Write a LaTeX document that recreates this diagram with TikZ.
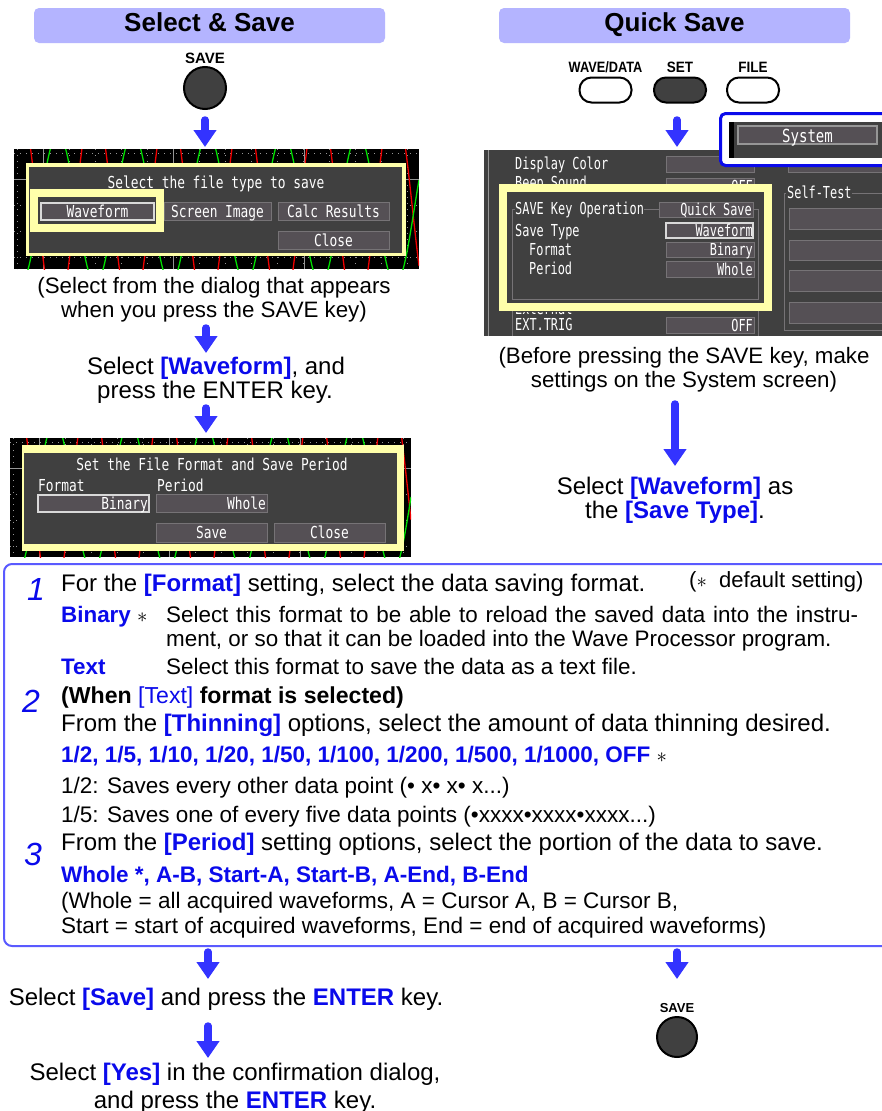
\documentclass[tikz,border=0pt]{standalone}
\usepackage{fontspec}
\setmainfont{Liberation Sans}
\newfontfamily\scrA[FakeStretch=0.78]{DejaVu Sans Mono}
\newfontfamily\scrB[FakeStretch=0.72]{DejaVu Sans Mono}
\usetikzlibrary{arrows.meta}
\definecolor{hdr}{RGB}{180,180,255}
\definecolor{ablue}{RGB}{51,51,255}
\definecolor{tblue}{RGB}{10,10,235}
\definecolor{scrbg}{RGB}{64,64,64}
\definecolor{btn}{RGB}{85,80,85}
\definecolor{btnline}{RGB}{118,115,118}
\definecolor{hl}{RGB}{255,255,170}
\definecolor{boxblue}{RGB}{90,90,255}
\definecolor{sysblue}{RGB}{10,10,235}
\definecolor{keydark}{RGB}{64,64,64}
\definecolor{gridc}{RGB}{150,150,150}
\definecolor{wgreen}{RGB}{0,225,0}
\definecolor{wred}{RGB}{240,0,0}
\newcommand\fsz[1]{\fontsize{#1}{#1}\selectfont}
\newcommand\bb[1]{\textcolor{tblue}{\bfseries #1}}
\newcommand\bn[1]{\textcolor{tblue}{#1}}
\newcommand\valbox[6]{%
  \draw[sbtn] (#1,#2) rectangle (#3,#4);
  \node[stB, anchor=base east] (#6) at ({#3-1},{(#2+#4)/2+6}) {#5};}
\tikzset{
  hdrtext/.style={font=\fsz{26}\bfseries, anchor=base, inner sep=0},
  body/.style={font=\fsz{24}, anchor=base west, inner sep=0},
  desc/.style={font=\fsz{22.4}, anchor=base west, inner sep=0},
  smallt/.style={font=\fsz{22.5}, anchor=base west, inner sep=0},
  capt/.style={font=\fsz{22.3}, anchor=base, inner sep=0},
  capb/.style={font=\fsz{24}, anchor=base, inner sep=0},
  numt/.style={font=\fsz{32}\itshape, text=tblue, anchor=base west, inner sep=0},
  stA/.style={font=\scrA\fsz{16.5}, text=white, inner sep=0},
  stB/.style={font=\scrB\fsz{16.5}, text=white, inner sep=0},
  sbtn/.style={fill=btn, draw=btnline, line width=1pt},
  sbtnsel/.style={fill=btn, draw=white!85!black, line width=2pt},
  bigarrow/.style={ablue, line width=7.5pt, line cap=round, -{Triangle[width=22pt,length=17pt]}},
  keylabel/.style={font=\fsz{15}\bfseries, anchor=base, inner sep=0},
  roundkey/.style={circle, draw=black, line width=2pt, fill=keydark, minimum size=42pt, inner sep=0},
  ovalkey/.style={rectangle, draw=black, line width=2pt, rounded corners=12pt, minimum width=52pt, minimum height=25pt, inner sep=0},
  dotgrid/.style={gridc, line width=0.8pt, dash pattern=on 1pt off 5pt},
  wave/.style={line width=1.3pt, samples=300},
}
\begin{document}
\begin{tikzpicture}[x=1pt,y=-1pt]
\clip (0,0) rectangle (882,1111);
\fill[white] (0,0) rectangle (882,1111);

% ---------- headers ----------
\fill[hdr, rounded corners=5pt] (34,8) rectangle (385,43);
\node[hdrtext] (h1) at (209.5,31) {Select \& Save};
\fill[hdr, rounded corners=5pt] (499,8) rectangle (850,43);
\node[hdrtext] (h2) at (674.5,31) {Quick Save};

% ---------- left keys ----------
\node[keylabel] (savelbl) at (205,63) {SAVE};
\node[roundkey] (savekey) at (205,88) {};
\coordinate (a1s) at (205,120); \coordinate (a1e) at (205,147);
\draw[bigarrow] (a1s) -- (a1e);

% ---------- screen 1 ----------
\begin{scope}
  \clip (14,149) rectangle (419,269);
  \fill[black] (14,149) rectangle (419,269);
  \foreach \gx in {17,43,...,419} \draw[dotgrid] (\gx,149) -- (\gx,269);
  \foreach \gy in {153,205,231,257} \draw[dotgrid] (14,\gy) -- (419,\gy);
  \foreach \gx in {43,173.5,304} \draw[gridc, line width=1pt] (\gx,149) -- (\gx,269);
  \draw[gridc, line width=1pt] (14,179) -- (419,179);
  \draw[wave, wred, domain=14:419] plot (\x,{209-110*sin(4.8*(\x-75))});
  \draw[wave, wgreen, domain=14:419] plot (\x,{209-75*sin(4.8*(\x-39.25))});
\end{scope}
\fill[hl] (26,163) rectangle (406,256);
\fill[scrbg] (29,167) rectangle (402,253);
\node[stA, anchor=base] (d1t) at (216,188) {Select the file type to save};
\fill[hl] (30,189) rectangle (164,232);
\fill[scrbg] (38,197) rectangle (156,224);
\draw[sbtnsel] (41,203) rectangle (154,220);
\node[stA, anchor=base] (wf1) at (97.5,217) {Waveform};
\draw[sbtn] (164,202) rectangle (271,220);
\node[stA, anchor=base] (si1) at (217.5,217) {Screen Image};
\draw[sbtn] (278,202) rectangle (389,220);
\node[stA, anchor=base] (cr1) at (333.5,217) {Calc Results};
\draw[sbtn] (278,231) rectangle (389,249);
\node[stA, anchor=base] (cl1) at (333.5,246) {Close};

\node[capt] (c1a) at (214,293) {(Select from the dialog that appears};
\node[capt] (c1b) at (214,317) {when you press the SAVE key)};
\coordinate (a2s) at (206,328); \coordinate (a2e) at (206,353);
\draw[bigarrow] (a2s) -- (a2e);
\node[capb] (s1a) at (216,374) {Select \bb{[Waveform]}, and};
\node[capb] (s1b) at (215,398) {press the ENTER key.};
\coordinate (a3s) at (206,408); \coordinate (a3e) at (206,433);
\draw[bigarrow] (a3s) -- (a3e);

% ---------- screen 2 ----------
\begin{scope}
  \clip (10,438) rectangle (411,557);
  \fill[black] (10,438) rectangle (411,557);
  \foreach \gx in {13,39,...,411} \draw[dotgrid] (\gx,438) -- (\gx,557);
  \foreach \gy in {442,494,520,546} \draw[dotgrid] (10,\gy) -- (411,\gy);
  \foreach \gx in {39,169.5,300} \draw[gridc, line width=1pt] (\gx,438) -- (\gx,557);
  \draw[gridc, line width=1pt] (10,468) -- (411,468);
  \draw[wave, wred, domain=10:411] plot (\x,{497-110*sin(4.8*(\x-71))});
  \draw[wave, wgreen, domain=10:411] plot (\x,{497-75*sin(4.8*(\x-36))});
\end{scope}
\fill[hl] (22,445) rectangle (404,551);
\fill[scrbg] (24,453) rectangle (397,544);
\node[stA, anchor=base] (d2t) at (212,470) {Set the File Format and Save Period};
\node[stA, anchor=base west] (fmt2) at (38,491) {Format};
\node[stA, anchor=base west] (per2) at (157,491) {Period};
\draw[sbtnsel] (38,495) rectangle (149,512);
\node[stA, anchor=base east] (bin2) at (148,509) {Binary};
\draw[sbtn] (156,494) rectangle (267,512);
\node[stA, anchor=base east] (who2) at (266,509) {Whole};
\draw[sbtn] (156,523) rectangle (267,542);
\node[stA, anchor=base] (sav2) at (211.5,538.5) {Save};
\draw[sbtn] (274,523) rectangle (385,542);
\node[stA, anchor=base] (clo2) at (329.5,538.5) {Close};

% ---------- right keys ----------
\node[keylabel] (wdl) at (605.5,72) {\scalebox{0.85}[1]{WAVE/DATA}};
\node[ovalkey, fill=white] (wdk) at (605.5,90) {};
\node[keylabel] (setl) at (680,72) {\scalebox{0.9}[1]{SET}};
\node[ovalkey, fill=keydark] (setk) at (680,90) {};
\node[keylabel] (filel) at (753,72) {\scalebox{0.9}[1]{FILE}};
\node[ovalkey, fill=white] (filek) at (753,90) {};
\coordinate (b1s) at (677,120); \coordinate (b1e) at (677,147);
\draw[bigarrow] (b1s) -- (b1e);

% ---------- settings screen ----------
\fill[scrbg] (484,150) rectangle (882,336);
\draw[gridc, line width=1pt] (488.5,150) -- (488.5,336);
\node[stB, anchor=base west] (dc) at (515,169) {Display Color};
\draw[sbtn] (666,156) rectangle (754,172);
\node[stB, anchor=base west] (bs) at (515,188) {Beep Sound};
\valbox{666}{178}{754}{194}{OFF}{bsv}
\begin{scope}
  \clip (512,312) rectangle (660,336);
  \node[stB, anchor=base west] (ext) at (515,314) {External};
\end{scope}
\node[stB, anchor=base west] (extt) at (515,330) {EXT.TRIG};
\valbox{666}{317}{754}{333}{OFF}{extv}
\draw[btnline, line width=1pt] (512,305) -- (512,336);
\draw[btnline, line width=1pt] (758,305) -- (758,336);
% self-test column
\draw[sbtn] (788,162) rectangle (892,172);
\draw[btnline, line width=1pt] (886,330) -- (784,330) -- (784,193) -- (786,193);
\node[stB, anchor=base west] (st) at (787,198) {Self-Test};
\draw[btnline, line width=1pt] (st.east |- 0,193) -- (886,193);
\draw[sbtn] (789,208) rectangle (892,229);
\draw[sbtn] (789,240) rectangle (892,260);
\draw[sbtn] (789,270) rectangle (892,291);
\draw[sbtn] (789,302) rectangle (892,323);
% yellow highlight
\fill[hl] (499,184) rectangle (772,311);
\fill[scrbg] (507,192) rectangle (764,303);
\draw[btnline, line width=1pt] (515,209) -- (512,209) -- (512,299) -- (758,299) -- (758,209) -- (753,209);
\draw[btnline, line width=1pt] (644,209) -- (659,209);
\node[stB, anchor=base west] (sko) at (515,214) {SAVE Key Operation};
\valbox{659}{202}{753}{217}{Quick Save}{skov}
\node[stB, anchor=base west] (svt) at (515,236) {Save Type};
\draw[sbtnsel] (666,223) rectangle (753,238);
\node[stB, anchor=base east] (svtv) at (753,236.5) {Waveform};
\node[stB, anchor=base west] (fmt3) at (529,255) {Format};
\valbox{666}{242}{754}{257}{Binary}{fmt3v}
\node[stB, anchor=base west] (per3) at (529,274) {Period};
\valbox{666}{261}{754}{277}{Whole}{per3v}
% System tab highlight
\draw[sysblue, line width=3pt, fill=white, rounded corners=5pt] (720.5,113.5) rectangle (900,165.5);
\fill[scrbg] (729,122) rectangle (882,158);
\fill[black] (729,122) rectangle (734,158);
\draw[gridc, line width=1.5pt, fill=btn] (738,126) rectangle (877,144);
\node[stA, anchor=base, font=\scrA\fsz{18}] (sys) at (807.5,142) {System};

\node[capt] (c2a) at (684,363) {(Before pressing the SAVE key, make};
\node[capt] (c2b) at (684,387) {settings on the System screen)};
\coordinate (b2s) at (675,404); \coordinate (b2e) at (675,466);
\draw[bigarrow] (b2s) -- (b2e);
\node[capb] (s2a) at (675,494) {Select \bb{[Waveform]} as};
\node[capb] (s2b) at (675,518) {the \bb{[Save Type]}.};

% ---------- settings box ----------
\draw[boxblue, line width=2pt, rounded corners=8pt] (4,564) rectangle (900,946);
\node[numt] (n1) at (27,600) {1};
\node[body] (l1) at (61,591) {For the \bb{[Format]} setting, select the data saving format.};
\node[body, font=\fsz{22}] (dflt) at (689,587) {($\ast$\ \ default setting)};
\node[desc] (l2a) at (61,622) {\bb{Binary} $\ast$};
\node[desc] (l2b) at (166,622) {\makebox[692pt][s]{Select this format to be able to reload the saved data into the instru-}};
\node[desc] (l3) at (166,646) {ment, or so that it can be loaded into the Wave Processor program.};
\node[desc] (l4a) at (61,674) {\bb{Text}};
\node[desc] (l4b) at (166,674) {Select this format to save the data as a text file.};
\node[numt] (n2) at (22,712) {2};
\node[body, font=\fsz{23.1}] (l5) at (61,703) {\bfseries (When \bn{\mdseries[Text]} format is selected)};
\node[body] (l6) at (61,731) {From the \bb{[Thinning]} options, select the amount of data thinning desired.};
\node[smallt] (l7) at (61,762) {\bb{1/2, 1/5, 1/10, 1/20, 1/50, 1/100, 1/200, 1/500, 1/1000, OFF} $\ast$};
\node[smallt] (l8) at (61,793) {1/2: Saves every other data point (\textbullet\ x\textbullet\ x\textbullet\ x...)};
\node[smallt] (l9) at (61,822) {1/5: Saves one of every five data points (\textbullet xxxx\textbullet xxxx\textbullet xxxx...)};
\node[numt] (n3) at (24,865) {3};
\node[body] (l10) at (61,850) {From the \bb{[Period]} setting options, select the portion of the data to save.};
\node[smallt] (l11) at (61,882) {\bb{Whole *, A-B, Start-A, Start-B, A-End, B-End}};
\node[smallt] (l12) at (61,908) {(Whole = all acquired waveforms, A = Cursor A, B = Cursor B,};
\node[smallt] (l13) at (61,933) {Start = start of acquired waveforms, End = end of acquired waveforms)};

% ---------- bottom ----------
\coordinate (c1s) at (208,952); \coordinate (c1e) at (208,979);
\draw[bigarrow] (c1s) -- (c1e);
\node[capb] (e1) at (226,1005) {Select \bb{[Save]} and press the \bb{ENTER} key.};
\coordinate (c2s) at (208,1026); \coordinate (c2e) at (208,1058);
\draw[bigarrow] (c2s) -- (c2e);
\node[capb] (e2a) at (235,1080) {Select \bb{[Yes]} in the confirmation dialog,};
\node[capb] (e2b) at (235,1108) {and press the \bb{ENTER} key.};
\coordinate (d1s) at (677,952); \coordinate (d1e) at (677,979);
\draw[bigarrow] (d1s) -- (d1e);
\node[keylabel, font=\fsz{13}\bfseries] (save2l) at (677,1012) {SAVE};
\node[roundkey, minimum size=40pt] (save2) at (677,1037) {};
\end{tikzpicture}
\end{document}
